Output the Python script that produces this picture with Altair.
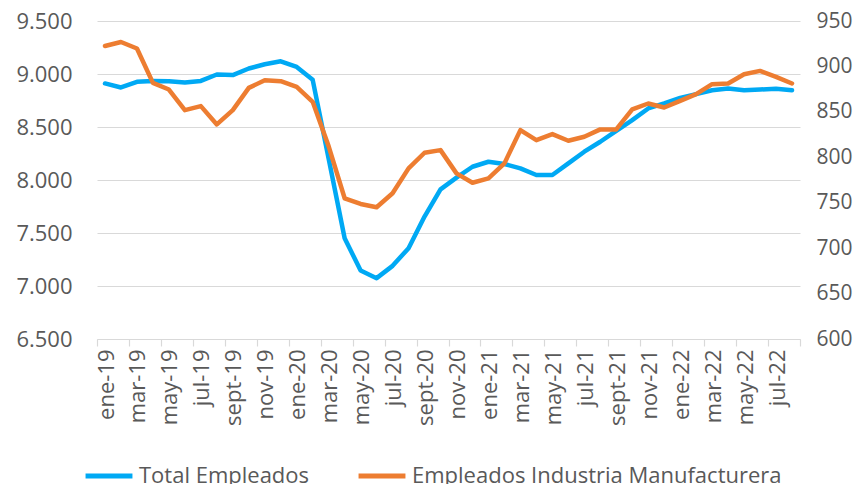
import json
import altair as alt
import pandas as pd

months = [
    "ene-19", "feb-19", "mar-19", "abr-19", "may-19", "jun-19", "jul-19", "ago-19", "sept-19", "oct-19", "nov-19", "dic-19",
    "ene-20", "feb-20", "mar-20", "abr-20", "may-20", "jun-20", "jul-20", "ago-20", "sept-20", "oct-20", "nov-20", "dic-20",
    "ene-21", "feb-21", "mar-21", "abr-21", "may-21", "jun-21", "jul-21", "ago-21", "sept-21", "oct-21", "nov-21", "dic-21",
    "ene-22", "feb-22", "mar-22", "abr-22", "may-22", "jun-22", "jul-22", "ago-22",
]
total_empleados = [
    8911, 8873, 8926, 8935, 8932, 8920, 8935, 8995, 8990, 9052,
    9092, 9120, 9067, 8945, 8200, 7451, 7146, 7074, 7190, 7357,
    7655, 7912, 8022, 8125, 8172, 8151, 8110, 8047, 8047, 8157,
    8267, 8361, 8464, 8565, 8675, 8722, 8775, 8810, 8847, 8863,
    8847, 8854, 8860, 8847,
]
industria_manufacturera = [
    922.5, 926.9, 919.7, 881.9, 874.6, 851.9, 856.3, 836.2, 851.9, 876.4,
    884.8, 883.7, 877.5, 861.0, 812.0, 754.9, 748.6, 745.0, 760.4, 787.8,
    805.0, 807.9, 782.3, 772.0, 776.8, 793.3, 829.9, 818.9, 825.5, 818.2,
    822.6, 830.7, 830.7, 852.7, 859.2, 854.8, 862.1, 869.5, 880.5, 881.2,
    891.4, 895.1, 888.5, 881.2,
]
series_names = ["Total Empleados", "Empleados Industria Manufacturera"]
series_colors = ["#00A9F4", "#ED7D31"]
left_ticks = [6500, 7000, 7500, 8000, 8500, 9000, 9500]
right_ticks = [600, 650, 700, 750, 800, 850, 900, 950]

rows = []
for i, m in enumerate(months):
    rows.append({"t": i + 0.5, "mes": m, "serie": series_names[0], "valor": total_empleados[i]})
    rows.append({"t": i + 0.5, "mes": m, "serie": series_names[1], "valor": industria_manufacturera[i]})
df = pd.DataFrame(rows)

n = len(months)
FONT = "Open Sans"
GRAY = "#595959"
LINE = "#d9d9d9"

label_expr = f"datum.value < {n} ? {json.dumps(months)}[datum.value] : ''"

x_enc = alt.X(
    "t:Q",
    scale=alt.Scale(domain=[0, n], nice=False, zero=False),
    axis=alt.Axis(
        values=list(range(0, n + 1, 2)),
        labelExpr=label_expr,
        labelAngle=270,
        labelOffset=9,
        labelOverlap=False,
        labelFlush=False,
        labelFont=FONT,
        labelFontSize=22,
        labelColor=GRAY,
        labelPadding=3,
        tickColor=LINE,
        tickSize=7,
        tickWidth=1.2,
        domainColor=LINE,
        domainWidth=1.2,
        grid=False,
        title=None,
    ),
)

color_enc = alt.Color(
    "serie:N",
    scale=alt.Scale(domain=series_names, range=series_colors),
    legend=alt.Legend(
        title=None,
        orient="none",
        legendX=-14,
        legendY=429,
        direction="horizontal",
        symbolType="stroke",
        symbolStrokeWidth=5,
        symbolSize=2200,
        labelFont=FONT,
        labelFontSize=22,
        labelColor=GRAY,
        labelOffset=4,
        labelLimit=0,
        columnPadding=38,
        padding=0,
    ),
)

base = alt.Chart(df)

left = base.transform_filter(alt.datum.serie == series_names[0]).mark_line(
    strokeWidth=4.5, strokeJoin="round", strokeCap="round"
).encode(
    x=x_enc,
    y=alt.Y(
        "valor:Q",
        scale=alt.Scale(domain=[6500, 9500], nice=False, zero=False),
        axis=alt.Axis(
            values=left_ticks,
            labelExpr="replace(format(datum.value, ','), ',', '.')",
            grid=True,
            gridColor=LINE,
            gridWidth=1.2,
            domain=False,
            ticks=False,
            labelFont=FONT,
            labelFontSize=22,
            labelColor=GRAY,
            labelPadding=25,
            title=None,
        ),
    ),
    color=color_enc,
)

right = base.transform_filter(alt.datum.serie == series_names[1]).mark_line(
    strokeWidth=4.5, strokeJoin="round", strokeCap="round"
).encode(
    x=x_enc,
    y=alt.Y(
        "valor:Q",
        scale=alt.Scale(domain=[600, 950], nice=False, zero=False),
        axis=alt.Axis(
            orient="right",
            values=right_ticks,
            grid=False,
            domain=False,
            ticks=False,
            labelFont=FONT,
            labelFontSize=21,
            labelColor=GRAY,
            labelPadding=16,
            title=None,
        ),
    ),
    color=color_enc,
)

chart = (
    alt.layer(left, right)
    .resolve_scale(y="independent")
    .properties(
        width=703,
        height=318,
        padding={"left": 89, "top": 13, "right": 55, "bottom": 145},
        autosize=alt.AutoSizeParams(type="none"),
    )
    .configure_view(strokeWidth=0)
)

chart.save("out.html", embed_options={"renderer": "svg", "actions": False})
